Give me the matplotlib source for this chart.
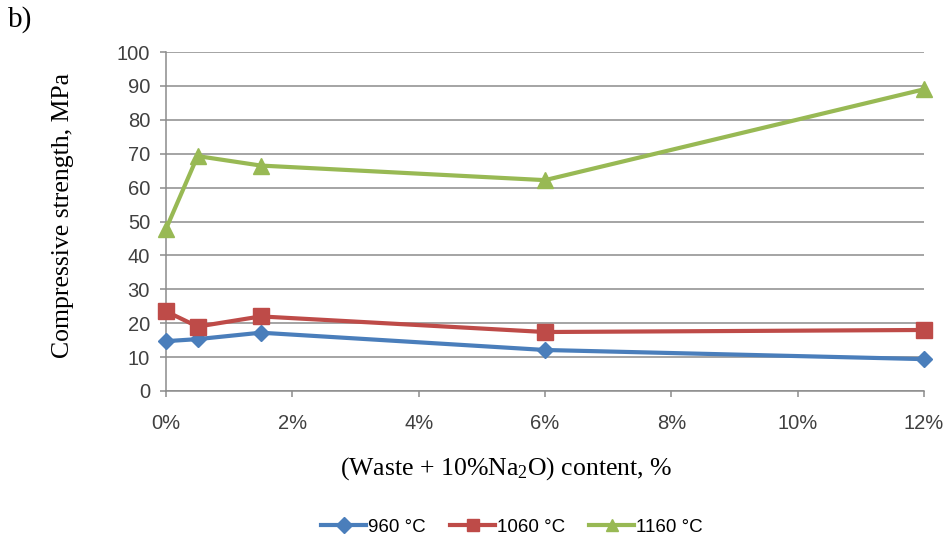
import matplotlib.pyplot as plt
from matplotlib.ticker import FuncFormatter

# waste content (%) and compressive strength (MPa)
content = [0, 0.5, 1.5, 6, 12]
s960 = [14.7, 15.3, 17.2, 12.1, 9.4]
s1060 = [23.5, 19.0, 22.0, 17.4, 18.0]
s1160 = [47.8, 69.3, 66.5, 62.2, 89.0]
labels = ["960 °C", "1060 °C", "1160 °C"]

colors = ["#4A7EBB", "#BE4B48", "#98B954"]
markers = ["D", "s", "^"]
msizes = [8.5, 11.5, 12]

plt.rcParams["mathtext.fontset"] = "custom"
plt.rcParams["mathtext.rm"] = "Liberation Serif"
plt.rcParams["mathtext.it"] = "Liberation Serif:italic"

fig = plt.figure(figsize=(9.49, 5.44), dpi=100)
ax = fig.add_axes([166 / 949, 1 - 391 / 544, (924 - 166) / 949, (391 - 52) / 544])

for ys, lab, c, m, ms in zip([s960, s1060, s1160], labels, colors, markers, msizes):
    ax.plot(content, ys, color=c, lw=3, marker=m, markersize=ms,
            label=lab, clip_on=False, zorder=3)

ax.set_xlim(0, 12)
ax.set_ylim(0, 100)
ax.set_xticks(range(0, 13, 2))
ax.set_yticks(range(0, 101, 10))
ax.xaxis.set_major_formatter(FuncFormatter(lambda v, p: f"{int(v)}%"))
ax.grid(axis="y", color="#8C8C8C", lw=1.1)
ax.set_axisbelow(True)

for s in ["top", "right"]:
    ax.spines[s].set_visible(False)
for s in ["left", "bottom"]:
    ax.spines[s].set_color("#8C8C8C")
    ax.spines[s].set_linewidth(1.1)
ax.tick_params(colors="#8C8C8C", length=4.5, width=1.1, labelcolor="#404040",
               labelsize=14.5)
ax.tick_params(axis="x", pad=12)
ax.tick_params(axis="y", pad=7)
for t in ax.get_xticklabels() + ax.get_yticklabels():
    t.set_family("Liberation Sans")

serif = "Liberation Serif"
fig.text(63 / 949, 1 - 215 / 544, "Compressive strength, MPa", family=serif,
         fontsize=18.5, rotation=90, ha="center", va="center")
fig.text(506 / 949, 1 - 469 / 544, "(Waste + 10%Na$_2$O) content, %",
         family=serif, fontsize=18.5, ha="center", va="center")
fig.text(8 / 949, 1 - 20 / 544, "b)", family=serif, fontsize=21, va="center")

leg = fig.legend(loc="center", bbox_to_anchor=(512 / 949, 1 - 527 / 544), ncol=3,
                 frameon=False, prop={"family": "Liberation Sans", "size": 13.5},
                 handlelength=2.4, columnspacing=1.3, handletextpad=0.1)
for h in leg.legend_handles:
    h.set_markersize(8)

fig.savefig("out.png", dpi=100)
